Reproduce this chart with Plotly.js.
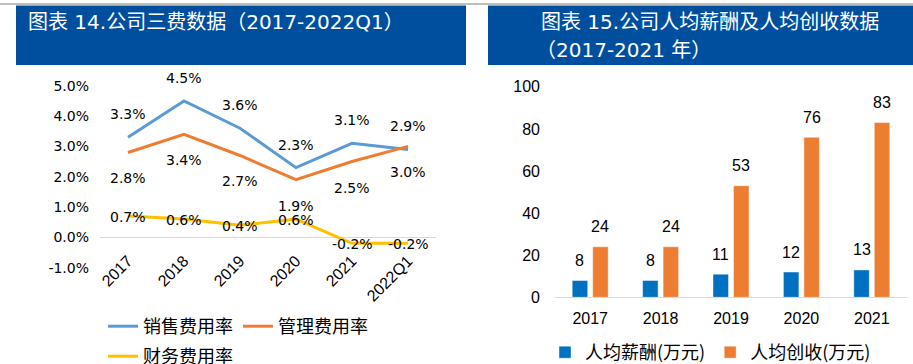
<!DOCTYPE html>
<html>
<head>
<meta charset="utf-8">
<script src="https://cdn.plot.ly/plotly-3.0.1.min.js"></script>
<style>html,body{margin:0;padding:0;background:#fff;}#chart{width:913px;height:364px;}</style>
</head>
<body>
<div id="chart"></div>
<script>
// Left chart: 三费 ratios (%)
const years1 = ['2017', '2018', '2019', '2020', '2021', '2022Q1'];
const salesRate = [3.3, 4.5, 3.6, 2.3, 3.1, 2.9];
const adminRate = [2.8, 3.4, 2.7, 1.9, 2.5, 3.0];
const finRate = [0.7, 0.6, 0.4, 0.6, -0.2, -0.2];
const names1 = ['销售费用率', '管理费用率', '财务费用率'];
const yTicks1 = [-1, 0, 1, 2, 3, 4, 5];

// Right chart: per-capita data (万元)
const years2 = ['2017', '2018', '2019', '2020', '2021'];
const salary = [8, 8, 11, 12, 13];
const revenue = [24, 24, 53, 76, 83];
const names2 = ['人均薪酬(万元)', '人均创收(万元)'];
const yTicks2 = [0, 20, 40, 60, 80, 100];

const title1 = '图表 14.公司三费数据（2017-2022Q1）';
const title2a = '图表 15.公司人均薪酬及人均创收数据';
const title2b = '（2017-2021 年）';

const W = 913, H = 364;
const px = v => v / W;
const py = v => 1 - v / H;

const numFont = 'DejaVu Sans, Noto Sans CJK SC, sans-serif';
const cjkFont = 'Noto Sans CJK SC, sans-serif';
const latFont = 'Liberation Sans, Arial, Noto Sans CJK SC, sans-serif';
const HEADER = '#004F9F';

const traces = [
  {x: years1, y: salesRate, name: names1[0], type: 'scatter', mode: 'lines',
   line: {color: '#5B9BD5', width: 3}, xaxis: 'x', yaxis: 'y', legend: 'legend'},
  {x: years1, y: adminRate, name: names1[1], type: 'scatter', mode: 'lines',
   line: {color: '#ED7D31', width: 3}, xaxis: 'x', yaxis: 'y', legend: 'legend'},
  {x: years1, y: finRate, name: names1[2], type: 'scatter', mode: 'lines',
   line: {color: '#FFC000', width: 3}, xaxis: 'x', yaxis: 'y', legend: 'legend2'},
  {x: years2, y: salary, name: names2[0], type: 'bar',
   marker: {color: '#0070C0', line: {color: 'rgba(255,255,255,0.45)', width: 1}},
   xaxis: 'x2', yaxis: 'y2', legend: 'legend3'},
  {x: years2, y: revenue, name: names2[1], type: 'bar',
   marker: {color: '#ED7D31', line: {color: 'rgba(255,255,255,0.45)', width: 1}},
   xaxis: 'x2', yaxis: 'y2', legend: 'legend3'}
];

// data labels: x given as category index (numeric-looking category strings would be read as indices)
const annotations = [];
const lbl = (x, y, text, xref, yref, yshift, xshift, font) => annotations.push({
  x: x, y: y, xref: xref, yref: yref, text: text, showarrow: false,
  yshift: yshift, xshift: xshift || 0, font: font
});
const lineLblFont = {family: numFont, size: 14, color: '#000'};
years1.forEach((c, i) => {
  lbl(i, salesRate[i], salesRate[i].toFixed(1) + '%', 'x', 'y', 23, 0, lineLblFont);
  lbl(i, adminRate[i], adminRate[i].toFixed(1) + '%', 'x', 'y', -26, 0, lineLblFont);
  lbl(i, finRate[i], finRate[i].toFixed(1) + '%', 'x', 'y', -1, 0, lineLblFont);
});
const barLblFont = {family: latFont, size: 16, color: '#000'};
years2.forEach((c, i) => {
  lbl(i, salary[i], String(salary[i]), 'x2', 'y2', 20, -10.25, barLblFont);
  lbl(i, revenue[i], String(revenue[i]), 'x2', 'y2', 20, 10.25, barLblFont);
});
// header titles
const hdrFont = {family: 'DejaVu Sans, Noto Sans CJK SC, sans-serif', size: 20, color: '#fff'};
annotations.push({xref: 'paper', yref: 'paper', x: px(26), y: py(22), xanchor: 'left', yanchor: 'middle',
  text: title1, showarrow: false, font: hdrFont});
annotations.push({xref: 'paper', yref: 'paper', x: px(539), y: py(22), xanchor: 'left', yanchor: 'middle',
  text: title2a, showarrow: false, font: hdrFont});
annotations.push({xref: 'paper', yref: 'paper', x: px(534), y: py(50), xanchor: 'left', yanchor: 'middle',
  text: title2b, showarrow: false, font: hdrFont});

const shapes = [
  {type: 'line', xref: 'paper', yref: 'paper', x0: 0, x1: 1, y0: py(4), y1: py(4),
   line: {color: '#BFBFBF', width: 2}},
  {type: 'rect', xref: 'paper', yref: 'paper', x0: px(16), x1: px(466), y0: py(65), y1: py(5.5),
   fillcolor: HEADER, line: {width: 0}, layer: 'below'},
  {type: 'rect', xref: 'paper', yref: 'paper', x0: px(488), x1: 1, y0: py(65), y1: py(5.5),
   fillcolor: HEADER, line: {width: 0}, layer: 'below'}
];

const legFont = {family: cjkFont, size: 18, color: '#000'};
const layout = {
  width: W, height: H,
  margin: {l: 0, r: 0, t: 0, b: 0, autoexpand: false},
  paper_bgcolor: '#fff', plot_bgcolor: 'rgba(0,0,0,0)',
  showlegend: true,
  barmode: 'group', bargap: 0.418, bargroupgap: 0.244,
  xaxis: {domain: [px(100), px(436)], anchor: 'y', type: 'category', range: [-0.5, 5.5],
    showgrid: false, showline: false, zeroline: false, ticks: '',
    tickangle: -45, tickfont: {family: latFont, size: 16, color: '#000'},
    ticklabelstandoff: -20, fixedrange: true},
  yaxis: {domain: [py(267.6), py(85.8)], anchor: 'x', range: [-1, 5],
    tickmode: 'array', tickvals: yTicks1, ticktext: yTicks1.map(v => v.toFixed(1) + '%'),
    showgrid: false, zeroline: true, zerolinecolor: '#D9D9D9', zerolinewidth: 1,
    showline: false, ticks: '', tickfont: {family: numFont, size: 14, color: '#000'},
    ticklabelstandoff: 10, fixedrange: true},
  xaxis2: {domain: [px(555), px(907)], anchor: 'y2', type: 'category', range: [-0.5, 4.5],
    showgrid: false, showline: true, linecolor: '#D9D9D9', linewidth: 1, zeroline: false, ticks: '',
    tickfont: {family: latFont, size: 16, color: '#000'}, ticklabelstandoff: 6, fixedrange: true},
  yaxis2: {domain: [py(297.3), py(86.8)], anchor: 'x2', range: [0, 100],
    tickmode: 'array', tickvals: yTicks2, ticktext: yTicks2.map(String),
    showgrid: false, zeroline: false, showline: false, ticks: '',
    tickfont: {family: latFont, size: 16, color: '#000'}, ticklabelstandoff: 14, fixedrange: true},
  legend: {orientation: 'h', x: px(103), xanchor: 'left', y: py(308), yanchor: 'top',
    font: legFont, bgcolor: 'rgba(0,0,0,0)', borderwidth: 0},
  legend2: {orientation: 'h', x: px(103), xanchor: 'left', y: py(338), yanchor: 'top',
    font: legFont, bgcolor: 'rgba(0,0,0,0)', borderwidth: 0},
  legend3: {orientation: 'h', x: px(545), xanchor: 'left', y: py(334), yanchor: 'top',
    font: legFont, bgcolor: 'rgba(0,0,0,0)', borderwidth: 0},
  shapes: shapes,
  annotations: annotations
};

Plotly.newPlot('chart', traces, layout, {displayModeBar: false});
</script>
</body>
</html>
